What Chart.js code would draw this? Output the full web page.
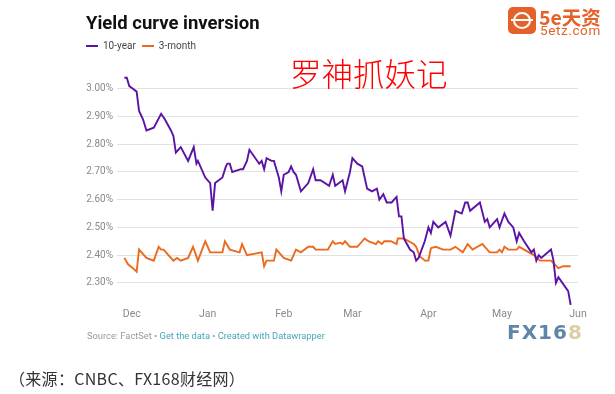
<!DOCTYPE html>
<html>
<head>
<meta charset="utf-8">
<script src="https://cdn.jsdelivr.net/npm/chart.js@4/dist/chart.umd.min.js"></script>
<style>
    body { margin: 0; background: #fff; }
    #wrap { position: relative; width: 615px; height: 394px; overflow: hidden; font-family: Roboto, sans-serif; }
    #chart { position: absolute; left: 0; top: 0; }
    .abs { position: absolute; white-space: nowrap; }
    #title { left: 86px; top: 12px; font-size: 18.5px; font-weight: 700; color: #111; }
    #legend { left: 86px; top: 40px; font-size: 10px; color: #444; }
    #legend i { display: inline-block; width: 12px; height: 2px; vertical-align: middle; margin: 0 5px 0 0; }
    #legend span { margin-right: 6px; }
    #mark { left: 290px; top: 49px; font-size: 31.5px; color: #f00; font-family: "Noto Sans CJK SC", sans-serif; font-weight: 300; }
    #foot { left: 87px; top: 330px; font-size: 9.3px; color: #9a9a9a; }
    #foot b { font-weight: 400; color: #48a5b9; }
    #cap { left: 9px; top: 366px; font-size: 16px; color: #333; font-family: "Noto Sans CJK SC", sans-serif; letter-spacing: 0.3px; }
    #fx { left: 507px; top: 320px; font-size: 20px; font-weight: 700; font-family: "DejaVu Sans", sans-serif; color: #5f86a8; letter-spacing: 1px; }
    #fx em { font-style: normal; color: #dccfa6; }
    #logo { left: 508px; top: 7px; width: 28px; height: 27px; border-radius: 5px; background: #e4622a; }
    #logo div { position: absolute; left: 5px; top: 5px; width: 14px; height: 13px; border: 2px solid #fff; border-radius: 50%; }
    #logo p { position: absolute; left: 3px; top: 12px; width: 22px; height: 2px; margin: 0; background: #fff; }
    #brand { left: 539px; top: 2px; font-size: 19.5px; font-weight: 700; color: #e4622a; font-family: "Noto Sans CJK SC", sans-serif; }
    #site { left: 540px; top: 22px; font-size: 13.5px; color: #e4622a; letter-spacing: 0.6px; }
</style>
</head>
<body>
<div id="wrap">
    <canvas id="chart" width="615" height="394"></canvas>
    <div class="abs" id="title">Yield curve inversion</div>
    <div class="abs" id="legend"><i style="background:#5b13a6"></i><span>10-year</span><i style="background:#ec6a1c"></i>3-month</div>
    <div class="abs" id="mark">罗神抓妖记</div>
    <div class="abs" id="foot">Source: FactSet • <b>Get the data</b> • <b>Created with Datawrapper</b></div>
    <div class="abs" id="cap">（来源：CNBC、FX168财经网）</div>
    <div class="abs" id="fx">FX16<em>8</em></div>
    <div class="abs" id="logo"><div></div><p></p></div>
    <div class="abs" id="brand">5e天资</div>
    <div class="abs" id="site">5etz.com</div>
</div>
<script>
'use strict';

// days counted from Dec 1, 2018
const monthTicks = [0, 31, 62, 90, 121, 151, 182];
const monthLabels = ['Dec', 'Jan', 'Feb', 'Mar', 'Apr', 'May', 'Jun'];
const yTicks = [2.3, 2.4, 2.5, 2.6, 2.7, 2.8, 2.9, 3.0];

const tenYearDays = [-3, -2, -1, 0.5, 2, 3, 4.6, 6, 9, 12, 13.5, 16, 17, 18, 20, 23, 25.3, 26.4, 27, 30,
    32, 33, 34, 37, 38.4, 39, 40, 41, 44.5, 45.4, 47, 48, 52, 53, 54, 55, 57, 58, 60, 61,
    62, 64, 65, 66, 67, 69, 72, 74, 75, 77, 80.5, 82, 83, 86, 87, 89, 90, 92, 94, 96,
    98, 100, 101, 102.6, 104, 106, 108, 109, 110, 111, 113.5, 115, 116, 117, 119.5, 121, 122, 123, 125, 128,
    130, 132, 134.6, 136, 137, 138, 142, 144, 145, 146, 149, 150, 152, 153.6, 155.6, 157, 158, 160, 163, 164,
    165, 166, 167, 171, 172, 173, 174, 178, 179];
const tenYearValues = [3.04, 3.04, 3.01, 3.00, 2.99, 2.92, 2.89, 2.85, 2.86, 2.91, 2.89, 2.85, 2.83, 2.77, 2.79, 2.74, 2.79, 2.73, 2.74, 2.68,
    2.66, 2.56, 2.66, 2.68, 2.72, 2.73, 2.73, 2.70, 2.71, 2.71, 2.74, 2.78, 2.73, 2.74, 2.71, 2.75, 2.74, 2.74, 2.68, 2.63,
    2.69, 2.70, 2.72, 2.70, 2.69, 2.63, 2.66, 2.71, 2.67, 2.67, 2.65, 2.69, 2.65, 2.67, 2.63, 2.70, 2.75, 2.73, 2.72, 2.64,
    2.63, 2.64, 2.60, 2.62, 2.59, 2.59, 2.61, 2.54, 2.54, 2.46, 2.42, 2.41, 2.38, 2.39, 2.45, 2.50, 2.48, 2.52, 2.50, 2.52,
    2.47, 2.56, 2.55, 2.59, 2.59, 2.56, 2.59, 2.52, 2.53, 2.50, 2.53, 2.50, 2.55, 2.52, 2.50, 2.45, 2.48, 2.45, 2.41, 2.42,
    2.38, 2.40, 2.39, 2.42, 2.38, 2.30, 2.32, 2.27, 2.22];

const threeMonthDays = [-3, -1.5, 0.5, 2, 3, 6, 9, 11, 12, 13, 17, 18.5, 20, 23, 25, 27, 30, 32, 37, 38,
    40, 44, 45, 47, 53, 54, 55, 58, 59, 62, 65, 67, 69, 72, 74, 75, 80, 82, 83, 85,
    86, 87, 89, 92, 95, 96.5, 99.6, 100.5, 102, 103, 105.7, 108, 108.5, 111, 113, 115, 116, 117.5, 119.6, 121,
    122, 124, 127, 130, 132, 135, 137, 139, 143, 144, 146, 149, 150, 151, 152, 153.6, 157, 158, 160, 162,
    164, 166.5, 171, 174, 176, 179];
const threeMonthValues = [2.39, 2.367, 2.353, 2.34, 2.42, 2.39, 2.38, 2.43, 2.42, 2.42, 2.38, 2.39, 2.38, 2.39, 2.43, 2.38, 2.45, 2.41, 2.41, 2.45,
    2.42, 2.41, 2.44, 2.40, 2.41, 2.36, 2.38, 2.38, 2.42, 2.39, 2.38, 2.42, 2.41, 2.43, 2.43, 2.42, 2.42, 2.45, 2.44, 2.445,
    2.44, 2.45, 2.43, 2.43, 2.46, 2.45, 2.44, 2.45, 2.44, 2.45, 2.45, 2.44, 2.46, 2.46, 2.45, 2.44, 2.43, 2.395, 2.38, 2.38,
    2.425, 2.43, 2.42, 2.42, 2.43, 2.41, 2.44, 2.42, 2.44, 2.43, 2.41, 2.41, 2.42, 2.41, 2.43, 2.42, 2.42, 2.43, 2.42, 2.41,
    2.40, 2.38, 2.38, 2.353, 2.36, 2.36];

function toPoints (days, values) {
    return days.map((d, i) => ({ x: d, y: values[i] }));
}

new Chart(document.querySelector('canvas#chart'), {
    type: 'line',
    data: {
        datasets: [{
            label: '10-year',
            data: toPoints(tenYearDays, tenYearValues),
            borderColor: '#5b13a6',
            borderWidth: 1.9,
            pointRadius: 0,
            tension: 0
        }, {
            label: '3-month',
            data: toPoints(threeMonthDays, threeMonthValues),
            borderColor: '#ec6a1c',
            borderWidth: 1.9,
            pointRadius: 0,
            tension: 0
        }]
    },
    options: {
        responsive: false,
        animation: false,
        layout: {
            padding: { left: 0, top: 75, right: 37, bottom: 69 }
        },
        plugins: {
            legend: { display: false },
            tooltip: { enabled: false }
        },
        scales: {
            x: {
                type: 'linear',
                min: -6,
                max: 182,
                grid: { display: false, drawTicks: false },
                border: { display: false },
                afterBuildTicks: (scale) => {
                    scale.ticks = monthTicks.map(v => ({ value: v }));
                },
                afterFit: (scale) => { scale.height = 20; },
                ticks: {
                    autoSkip: false,
                    maxRotation: 0,
                    padding: 3,
                    color: '#8a8a8a',
                    font: { family: 'Roboto', size: 10.5 },
                    callback: (value) => monthLabels[monthTicks.indexOf(value)]
                }
            },
            y: {
                min: 2.22,
                max: 3.05,
                grid: { color: '#e2e2e2', lineWidth: 1, drawTicks: false },
                border: { display: false },
                afterBuildTicks: (scale) => {
                    scale.ticks = yTicks.map(v => ({ value: v }));
                },
                afterFit: (scale) => { scale.width = 117; },
                ticks: {
                    padding: 4,
                    color: '#8a8a8a',
                    font: { family: 'Roboto', size: 10 },
                    callback: (value) => value.toFixed(2) + '%'
                }
            }
        }
    }
});
</script>
</body>
</html>
